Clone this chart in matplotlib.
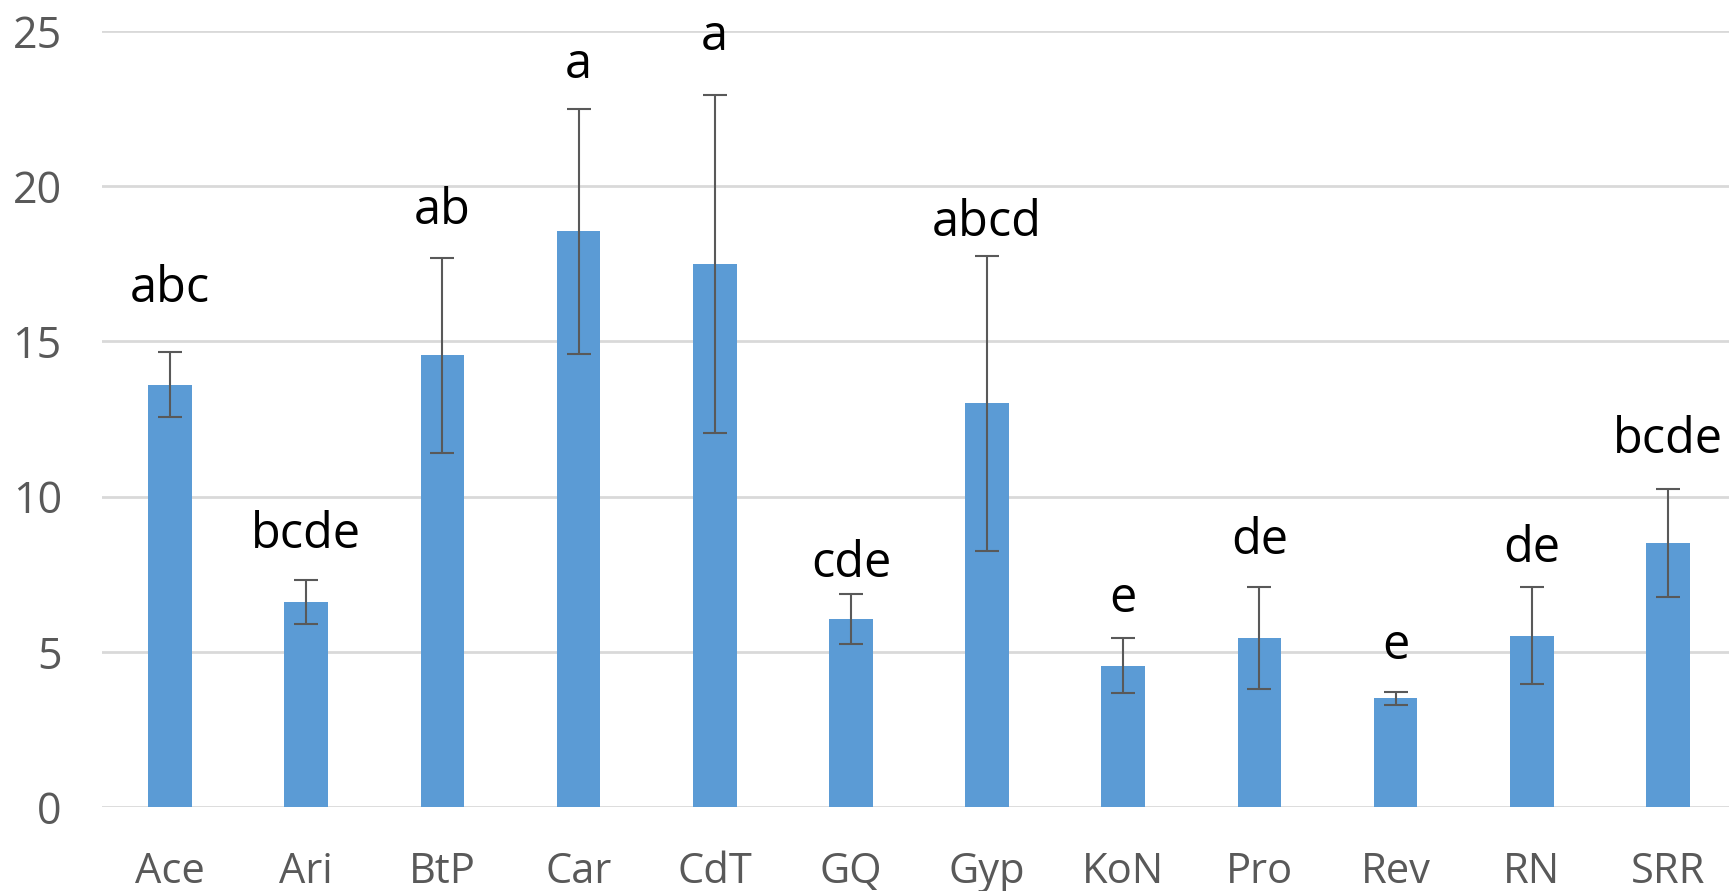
import matplotlib
matplotlib.use("Agg")
import matplotlib.pyplot as plt
import numpy as np

categories = ["Ace", "Ari", "BtP", "Car", "CdT", "GQ", "Gyp", "KoN", "Pro", "Rev", "RN", "SRR"]
means = [13.6, 6.6, 14.55, 18.55, 17.5, 6.05, 13.0, 4.55, 5.45, 3.5, 5.52, 8.5]
errors = [1.05, 0.72, 3.15, 3.95, 5.45, 0.8, 4.75, 0.88, 1.65, 0.2, 1.57, 1.75]
letters = ["abc", "bcde", "ab", "a", "a", "cde", "abcd", "e", "de", "e", "de", "bcde"]
letter_y = [16.27, 8.34, 18.78, 23.5, 24.4, 7.41, 18.4, 6.28, 8.15, 4.77, 7.89, 11.4]
yticks = [0, 5, 10, 15, 20, 25]

plt.rcParams['font.family'] = ['Open Sans', 'DejaVu Sans']

fig = plt.figure(figsize=(17.29, 8.91), dpi=100)
ax = fig.add_axes([102 / 1729, 84 / 891, 1634 / 1729, 776 / 891])

x = np.arange(len(categories))
ax.bar(x, means, width=0.32, color="#5B9BD5", zorder=2)
ax.errorbar(x, means, yerr=errors, fmt="none", ecolor="#595959",
            elinewidth=1.5, capsize=8.5, capthick=1.5, zorder=3)

for xi, lab, ly in zip(x, letters, letter_y):
    ax.text(xi, ly, lab, ha="center", va="baseline", fontsize=35,
            color="black", clip_on=False, zorder=4)

ax.set_xlim(-0.5, len(categories) - 0.5)
ax.set_ylim(0, 25)
ax.set_yticks(yticks)
ax.set_xticks(x)
ax.set_xticklabels(categories)
ax.yaxis.grid(True, color="#D9D9D9", linewidth=2, zorder=0)
ax.set_axisbelow(True)
for s in ax.spines.values():
    s.set_visible(False)
ax.tick_params(axis="both", length=0, colors="#595959")
ax.tick_params(axis="y", pad=29, labelsize=31)
ax.tick_params(axis="x", pad=32, labelsize=30)

fig.savefig("out.png", dpi=100)
